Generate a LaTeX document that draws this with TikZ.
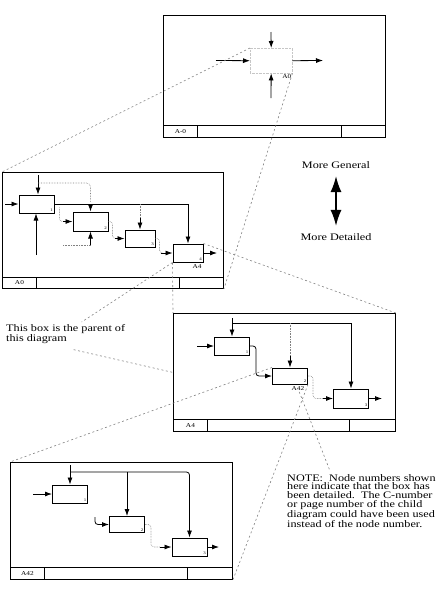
\documentclass[tikz,border=0pt]{standalone}
\usepackage{fontspec}
\setmainfont{Liberation Serif}[FakeStretch=1.22]
\usetikzlibrary{arrows.meta, positioning, calc}

\begin{document}
\begin{tikzpicture}[x=1pt, y=-1pt,
  frame/.style={draw, line width=0.9pt, minimum width=222pt, minimum height=118pt,
    inner sep=0pt, anchor=north west},
  cell/.style={draw, line width=0.9pt, minimum height=12pt, inner sep=0pt,
    font=\fontsize{6}{6}\selectfont},
  box/.style={draw, line width=1pt, minimum width=35pt, minimum height=18pt, inner sep=0pt},
  num/.style={font=\fontsize{4}{4}\selectfont, inner sep=1.5pt, anchor=south east},
  tag/.style={font=\fontsize{6}{6}\selectfont, inner sep=1pt},
  flow/.style={line width=0.8pt, -{Latex[length=7pt, width=5pt]}},
  faint/.style={gray, densely dotted, line width=0.6pt},
  proj/.style={gray, dash pattern=on 2pt off 2.5pt, line width=0.6pt},
  remark/.style={font=\fontsize{10}{8.7}\selectfont, align=left, inner sep=0pt}
]
\useasboundingbox (0,0) rectangle (440,590);

% A-0 context diagram
\node[frame, minimum height=122pt] (f0) at (163,15) {};
\node[cell, anchor=south west, minimum width=34pt] (l0) at (f0.south west) {A-0};
\node[cell, anchor=south east, minimum width=44pt] (r0) at (f0.south east) {};
\draw[line width=0.9pt] (l0.north east) -- (r0.north west);
\node[draw=gray!45, densely dotted, minimum width=42pt, minimum height=25pt,
  anchor=north west] (a0) at (250,48) {};
\node[tag, anchor=north east] (t0) at (a0.south east) {A0};
\coordinate (i0) at (216,60.5);
\coordinate (c0) at (271,32);
\coordinate (m0) at (271,98);
\coordinate (o0) at (323,60.5);
\draw[flow] (i0) -- (a0.west);
\draw[flow] (c0) -- (a0.north);
\draw[flow] (m0) -- (a0.south);
\draw[flow] (a0.east) -- (o0);

% More general / more detailed
\node[font=\fontsize{10}{12}\selectfont] (gen) at (336,165) {More General};
\node[font=\fontsize{10}{12}\selectfont] (det) at (336,237) {More Detailed};
\draw[line width=1.6pt, {Latex[length=16pt, width=11pt]}-{Latex[length=16pt, width=11pt]},
  shorten <=4pt, shorten >=4pt] (gen) -- (det);

% A0 diagram
\node[frame, minimum width=221pt, minimum height=116pt] (f1) at (2,172) {};
\node[cell, anchor=south west, minimum width=34pt, minimum height=11pt] (l1) at (f1.south west) {A0};
\node[cell, anchor=south east, minimum width=44pt, minimum height=11pt] (r1) at (f1.south east) {};
\draw[line width=0.9pt] (l1.north east) -- (r1.north west);
\node[box, label={[num]south east:1}] (b11) at (36.5,204) {};
\node[box, minimum height=19pt, label={[num]south east:2}] (b12) at (90.5,221.5) {};
\node[box, minimum width=30pt, minimum height=17pt, label={[num]south east:3}] (b13) at (140,238.5) {};
\node[box, minimum width=30pt, label={[num]south east:4}] (b14) at (188,253) {};
\node[tag, anchor=north] (t14) at ($(b14.south)+(9,1)$) {A4};
\coordinate (i11) at (5,204);
\coordinate (c11) at (38,175);
\coordinate (m11) at (36,255);
\coordinate (m12) at (63,245);
\coordinate (o14) at (217,253);
\draw[flow] (i11) -- (b11.west);
\draw[flow] (c11) -- (c11 |- b11.north);
\draw[flow] (m11) -- (m11 |- b11.south);
\draw[flow] (b11.east) -| (b14.north);
\draw[faint, rounded corners=4pt] ($(c11)+(0,8)$) -| ($(b12.north)+(0,-10)$);
\draw[flow] (b12.north |- b11.east) -- (b12.north);
\draw[faint] (b13.north |- b11.east) -- ($(b13.north)+(0,-12)$);
\draw[flow] ($(b13.north)+(0,-12)$) -- (b13.north);
\draw[faint, rounded corners=3pt] ($(b11.south east)+(5,-6)$) |- ($(b12.west)+(-10,0)$);
\draw[flow] ($(b12.west)+(-10,0)$) -- (b12.west);
\draw[faint] (m12) -- (m12 -| b12.south);
\draw[flow] (m12 -| b12.south) -- (b12.south);
\draw[faint, rounded corners=3pt] (b12.east) -- ++(4,0) |- ($(b13.west)+(-10,0)$);
\draw[flow] ($(b13.west)+(-10,0)$) -- (b13.west);
\draw[faint, rounded corners=3pt] (b13.east) -- ++(4,0) |- ($(b14.west)+(-12,0)$);
\draw[flow] ($(b14.west)+(-12,0)$) -- (b14.west);
\draw[flow] (b14.east) -- (o14);

% A4 diagram
\node[frame] (f2) at (173,313) {};
\node[cell, anchor=south west, minimum width=34pt] (l2) at (f2.south west) {A4};
\node[cell, anchor=south east, minimum width=46pt] (r2) at (f2.south east) {};
\draw[line width=0.9pt] (l2.north east) -- (r2.north west);
\node[box, label={[num]south east:1}] (b21) at (232,346) {};
\node[box, minimum height=16pt, label={[num]south east:2}] (b22) at (290,376) {};
\node[box, minimum height=19pt, label={[num]south east:3}] (b23) at (351,398.5) {};
\node[tag, anchor=north] (t22) at ($(b22.south)+(8,1)$) {A42};
\coordinate (i21) at (197,346);
\coordinate (c21) at (232,318);
\coordinate (j21) at (232,323);
\coordinate (o23) at (382,398.5);
\draw[flow] (i21) -- (b21.west);
\draw[flow] (c21) -- (b21.north);
\draw[flow] (j21) -| (b23.north);
\draw[faint] (j21 -| b22.north) -- ($(b22.north)+(0,-12)$);
\draw[flow] ($(b22.north)+(0,-12)$) -- (b22.north);
\draw[flow, rounded corners=3pt] (b21.east) -- ++(6,0) |- (b22.west);
\draw[faint, rounded corners=3pt] (b22.east) -- ++(5,0) |- ($(b23.west)+(-10,0)$);
\draw[flow] ($(b23.west)+(-10,0)$) -- (b23.west);
\draw[flow] (b23.east) -- (o23);

% A42 diagram
\node[frame, minimum height=117pt] (f3) at (10,462) {};
\node[cell, anchor=south west, minimum width=34pt] (l3) at (f3.south west) {A42};
\node[cell, anchor=south east, minimum width=45pt] (r3) at (f3.south east) {};
\draw[line width=0.9pt] (l3.north east) -- (r3.north west);
\node[box, label={[num]south east:1}] (b31) at (70,494) {};
\node[box, minimum height=16pt, label={[num]south east:2}] (b32) at (127,524.5) {};
\node[box, label={[num]south east:3}] (b33) at (189.5,547) {};
\coordinate (i31) at (33,494);
\coordinate (c31) at (70,465);
\coordinate (j31) at (70,472);
\coordinate (i32) at (95,517);
\coordinate (o33) at (219,547);
\draw[flow] (i31) -- (b31.west);
\draw[flow] (c31) -- (b31.north);
\draw[flow, rounded corners=3pt] (j31) -| (b33.north);
\draw[flow] (j31 -| b32.north) -- (b32.north);
\draw[flow, rounded corners=3pt] (i32) |- (b32.west);
\draw[faint, rounded corners=3pt] (b32.east) -- ++(6,0) |- ($(b33.west)+(-12,0)$);
\draw[flow] ($(b33.west)+(-12,0)$) -- (b33.west);
\draw[flow] (b33.east) -- (o33);

% Projection lines between levels
\draw[proj] (a0.north west) -- (f1.north west);
\draw[proj] (a0.south east) -- (f1.south east);
\draw[proj] (b14.north east) -- (f2.north east);
\draw[proj] (b14.south west) -- (f2.north west);
\draw[proj] (b22.north west) -- (f3.north west);
\draw[proj] (b22.south east) -- (f3.south east);

% Remarks
\node[remark, anchor=north west] (par) at (6,324) {This box is the parent of\\this diagram};
\node[remark, anchor=north west] (note) at (287,474)
  {NOTE:\ \ Node numbers shown\\here indicate that the box has\\been detailed.\ \ The C-number\\or page number of the child\\diagram could have been used\\instead of the node number.};
\draw[proj] (b14.south west) -- ($(par.north)+(16,-2)$);
\draw[proj] ($(par.south)+(8,6)$) -- (f2.west);
\draw[proj] (t22) -- ($(note.north west)+(43,-3)$);
\end{tikzpicture}
\end{document}
